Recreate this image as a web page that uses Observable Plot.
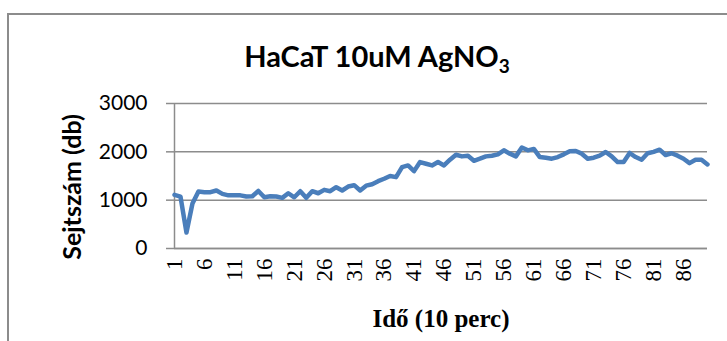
<!DOCTYPE html>
<html>
<head>
<meta charset="utf-8">
<script src="https://cdn.jsdelivr.net/npm/d3@7"></script>
<script src="https://cdn.jsdelivr.net/npm/@observablehq/plot@0.6"></script>
<style>
  html, body { margin: 0; padding: 0; background: #fff; width: 727px; height: 341px; overflow: hidden; }
  #wrap { position: relative; width: 727px; height: 341px; }
  #frame { position: absolute; left: 7px; top: 13px; width: 800px; height: 400px;
           border-left: 2px solid #8c8c8c; border-top: 2px solid #8c8c8c; box-sizing: border-box; }
  #title { position: absolute; left: 0; width: 754px; top: 40px; text-align: center;
           font-family: Lato, sans-serif; font-weight: bold; font-size: 29px; line-height: 32px; color: #000; }
  #title sub { font-size: 19px; vertical-align: -6px; line-height: 0; }
  #chart { position: absolute; left: 0; top: 0; }
</style>
</head>
<body>
<div id="wrap">
  <div id="frame"></div>
  <div id="title">HaCaT 10uM AgNO<sub>3</sub></div>
  <div id="chart"></div>
</div>
<script>
// Time points (10-minute steps)
const timePoints = d3.range(1, 91);
// Cell counts (db)
const cellCounts = [
  1110, 1075, 330, 930, 1180, 1165, 1165, 1200, 1130, 1100,
  1100, 1100, 1075, 1080, 1190, 1060, 1080, 1075, 1048, 1143,
  1060, 1185, 1048, 1185, 1143, 1213, 1185, 1268, 1200, 1282,
  1310, 1200, 1300, 1330, 1393, 1443, 1500, 1476, 1684, 1719,
  1601, 1788, 1754, 1719, 1788, 1719, 1837, 1940, 1906, 1920,
  1815, 1858, 1906, 1920, 1948, 2031, 1962, 1906, 2090, 2031,
  2060, 1892, 1878, 1858, 1892, 1948, 2010, 2017, 1962, 1858,
  1878, 1920, 1996, 1906, 1788, 1788, 1976, 1892, 1837, 1970,
  2000, 2045, 1935, 1970, 1920, 1858, 1767, 1837, 1837, 1740
];
const xTicks = [1, 6, 11, 16, 21, 26, 31, 36, 41, 46, 51, 56, 61, 66, 71, 76, 81, 86];
const yTicks = [0, 1000, 2000, 3000];
const xTitle = "Idő (10 perc)";
const yTitle = "Sejtszám (db)";

const data = timePoints.map((t, i) => ({t, v: cellCounts[i]}));
const gray = "#8c8c8c";

const chart = Plot.plot({
  width: 727,
  height: 341,
  marginLeft: 174,
  marginRight: 20,
  marginTop: 103,
  marginBottom: 93,
  style: {background: "transparent", overflow: "visible"},
  x: {domain: [1, 90]},
  y: {domain: [0, 3000]},
  marks: [
    Plot.gridY(yTicks, {stroke: gray, strokeOpacity: 1, strokeWidth: 1.5}),
    Plot.ruleX([1], {stroke: gray, strokeWidth: 1.5}),
    Plot.ruleY([0], {stroke: gray, strokeWidth: 1.5}),
    Plot.axisY(yTicks, {
      tickSize: 8, tickPadding: 19, stroke: gray, strokeWidth: 1.5, fill: "#000",
      fontSize: 21, fontFamily: "Lato, sans-serif", tickFormat: d => String(d), label: null
    }),
    Plot.axisX(xTicks, {
      tickSize: 0, tickPadding: 10, tickRotate: -90, fill: "#000",
      fontSize: 23, fontFamily: "'Liberation Serif', 'Times New Roman', serif",
      tickFormat: d => String(d), label: null
    }),
    Plot.line(data, {x: "t", y: "v", stroke: "#4a7ebb", strokeWidth: 4.5, strokeLinejoin: "round", strokeLinecap: "round"}),
    Plot.text([yTitle], {
      text: d => d, frameAnchor: "left", dx: -102, dy: 11, rotate: -90,
      textAnchor: "middle", lineAnchor: "middle",
      fontSize: 25, fontWeight: "bold", fontFamily: "Lato, sans-serif", fill: "#000"
    }),
    Plot.text([xTitle], {
      text: d => d, frameAnchor: "bottom", dy: 70, lineAnchor: "middle", textAnchor: "middle",
      fontSize: 25, fontWeight: "bold", fontFamily: "'Liberation Serif', 'Times New Roman', serif", fill: "#000"
    })
  ]
});
document.getElementById("chart").appendChild(chart);
</script>
</body>
</html>
